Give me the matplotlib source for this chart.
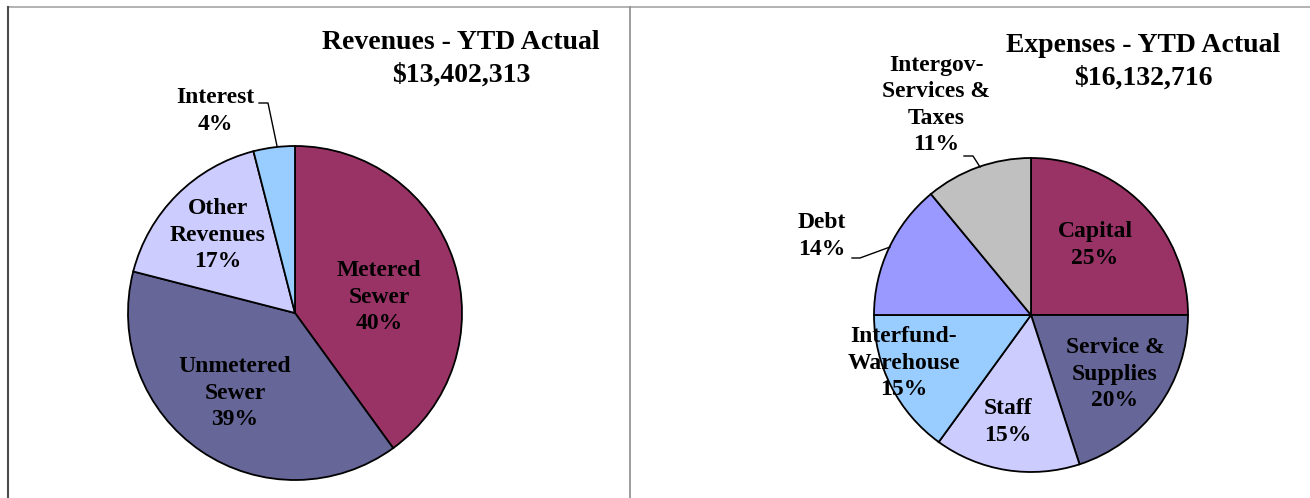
import matplotlib.pyplot as plt
from matplotlib.lines import Line2D

W, H = 1310, 498

rev_names = ["Metered\nSewer", "Unmetered\nSewer", "Other\nRevenues", "Interest"]
rev_pct = [40, 39, 17, 4]
rev_colors = ["#993366", "#666699", "#CCCCFF", "#99CCFF"]
rev_title = "Revenues - YTD Actual\n$13,402,313"

exp_names = ["Capital", "Service &\nSupplies", "Staff", "Interfund-\nWarehouse",
             "Debt", "Intergov-\nServices &\nTaxes"]
exp_pct = [25, 20, 15, 15, 14, 11]
exp_colors = ["#993366", "#666699", "#CCCCFF", "#99CCFF", "#9999FF", "#C0C0C0"]
exp_title = "Expenses - YTD Actual\n$16,132,716"

# layout in pixels (y measured from top)
rev_center, rev_r = (295, 313), 167
exp_center, exp_r = (1031, 315), 157
rev_label_pos = [(379, 297), (235, 393), (218, 235), (215, 111)]
exp_label_pos = [(1095, 245), (1115, 374), (1008, 422), (904, 363), (822, 236), (936, 105)]

plt.rcParams["font.family"] = ["Liberation Serif", "DejaVu Serif"]
plt.rcParams["font.weight"] = "bold"

fig = plt.figure(figsize=(W / 100, H / 100), dpi=100)
ax = fig.add_axes([0, 0, 1, 1])


def fy(y):
    return H - y


def draw_pie(vals, colors, center, r, names, pos):
    ax.pie(vals, colors=colors, startangle=90, counterclock=False,
           center=(center[0], fy(center[1])), radius=r, frame=True,
           wedgeprops=dict(edgecolor="black", linewidth=1.3))
    for name, v, (x, y) in zip(names, vals, pos):
        ax.text(x, fy(y), f"{name}\n{v}%", ha="center", va="center",
                fontsize=17, fontweight="bold", linespacing=1.32)


draw_pie(rev_pct, rev_colors, rev_center, rev_r, rev_names, rev_label_pos)
draw_pie(exp_pct, exp_colors, exp_center, exp_r, exp_names, exp_label_pos)

# leader lines
for pts in ([(259, 103), (268, 103), (277, 146)],
            [(852, 258), (860, 258), (890, 247)],
            [(964, 156), (973, 156), (980, 167)]):
    ax.plot([p[0] for p in pts], [fy(p[1]) for p in pts], color="black", lw=1)

ax.text(461, fy(30), rev_title, ha="center", va="top", fontsize=20,
        fontweight="bold", linespacing=1.38)
ax.text(1143, fy(33), exp_title, ha="center", va="top", fontsize=20,
        fontweight="bold", linespacing=1.38)

ax.set_xlim(0, W)
ax.set_ylim(0, H)
ax.set_aspect("auto")
ax.axis("off")

# panel frame
fig.add_artist(Line2D([7.5 / W, 1], [fy(7.5) / H] * 2, color="#a6a6a6", lw=1.2))
fig.add_artist(Line2D([7.5 / W] * 2, [0, fy(7.5) / H], color="#4d4d4d", lw=1.5))
fig.add_artist(Line2D([630 / W] * 2, [0, fy(7.5) / H], color="#8c8c8c", lw=1.2))

fig.savefig("out.png", dpi=100)
